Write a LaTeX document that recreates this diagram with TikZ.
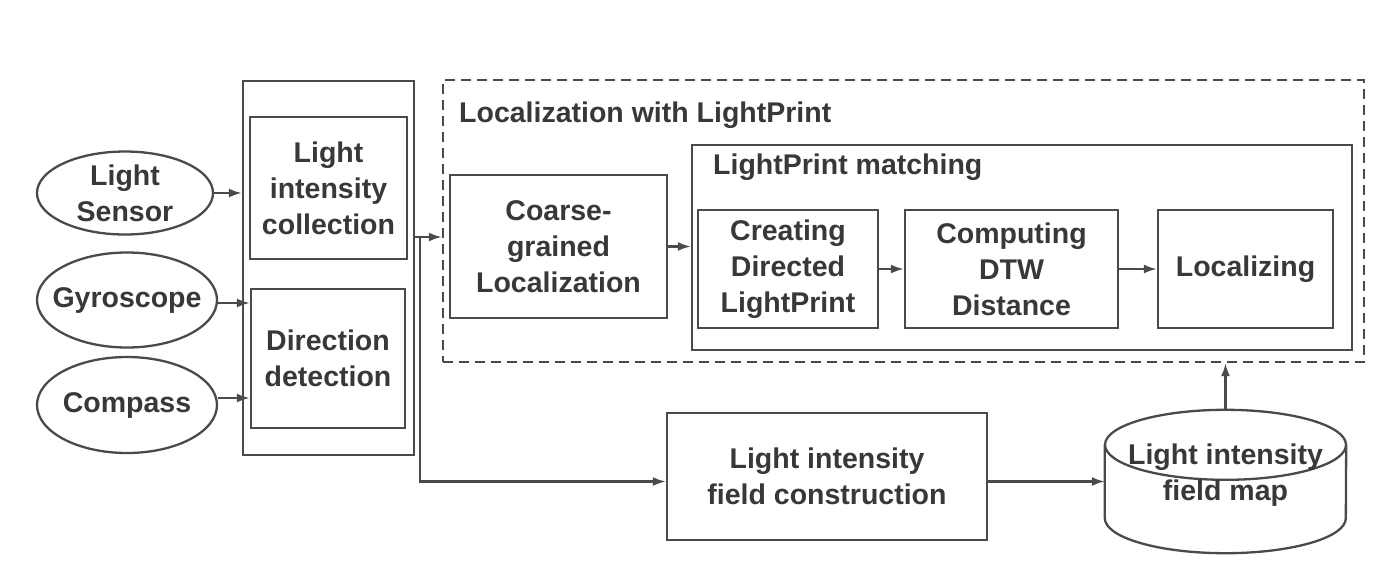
\documentclass[tikz,border=0pt]{standalone}
\usepackage{fontspec}
\setmainfont{Liberation Sans}
\usetikzlibrary{arrows.meta,shapes.geometric}
\definecolor{ln}{HTML}{4A4A4A}
\definecolor{tx}{HTML}{383838}
\begin{document}
\begin{tikzpicture}[x=1pt,y=-1pt,
 every node/.style={text=tx, font=\fontsize{28.5}{36}\selectfont\bfseries},
 box/.style={draw=ln, line width=2.3pt, rectangle, align=center, inner sep=0pt},
 oval/.style={draw=ln, line width=2.3pt, ellipse, align=center, inner xsep=-16pt, inner ysep=-10pt},
 arr/.style={draw=ln, line width=2.3pt, -{Latex[length=13pt,width=9pt]}},
 ln2/.style={draw=ln, line width=2.3pt}
 ]
\useasboundingbox (0,0) rectangle (1388,582);
% sensors
\node[oval, minimum width=176pt, minimum height=83pt] (ls) at (125,193) {Light\\Sensor};
\node[oval, minimum width=180pt, minimum height=95pt] (gy) at (127,300) {Gyroscope};
\node[oval, minimum width=180pt, minimum height=96pt] (co) at (127,405) {Compass};
% preprocessing container
\node[box, minimum width=171pt, minimum height=374pt] (outer) at (328.5,268) {};
\node[box, minimum width=157pt, minimum height=142pt] (lic) at (328.5,188) {Light\\intensity\\collection};
\node[box, minimum width=154pt, minimum height=139pt] (dd) at (328,358.5) {Direction\\detection};
% localization
\node[box, dash pattern=on 10pt off 6pt, minimum width=921pt, minimum height=282pt] (dash) at (903.5,221) {};
\node[anchor=west, inner sep=0pt] (t1) at (459,115) {Localization with LightPrint};
\node[box, minimum width=217pt, minimum height=143pt] (cg) at (558.5,246.5) {Coarse-\\grained\\Localization};
\node[box, minimum width=660pt, minimum height=205pt] (lpm) at (1022,247.5) {};
\node[anchor=west, inner sep=0pt] (t2) at (713,167) {LightPrint matching};
\node[box, minimum width=180pt, minimum height=118pt] (cr) at (788,269) {Creating\\Directed\\LightPrint};
\node[box, minimum width=213pt, minimum height=118pt] (cd) at (1011.5,269) {Computing\\DTW\\Distance};
\node[box, minimum width=175pt, minimum height=118pt] (lo) at (1245.5,269) {Localizing};
% field construction
\node[box, minimum width=320pt, minimum height=127pt] (lifc) at (827,476.5) {Light intensity\\field construction};
% cylinder
\node[minimum width=241pt, minimum height=143pt, inner sep=0pt] (cyl) at (1225.5,481.5) {};
\draw[ln2] ([yshift=-35pt]cyl.north) ellipse [x radius=120.5pt, y radius=35pt];
\draw[ln2] ([yshift=-35pt]cyl.north west) -- ([yshift=35pt]cyl.south west)
  arc[start angle=180, end angle=360, x radius=120.5pt, y radius=35pt]
  -- ([yshift=-35pt]cyl.north east);
\node[align=center, inner sep=0pt] (cyltxt) at (1225.5,475) {Light intensity\\field map};
% connectors
\draw[arr] (ls.east) -- (ls.east -| outer.west);
\draw[arr] ([yshift=-3pt]gy.east) -- ([yshift=-3pt]gy.east -| dd.west);
\draw[arr] ([yshift=7pt]co.east) -- ([yshift=7pt]co.east -| dd.west);
\coordinate (split) at (420,237);
\draw[arr] (outer.east |- split) -- (split -| dash.west);
\draw[arr] (split) |- (lifc.west |- cyl.west);
\draw[arr] (cg.east) -- (cg.east -| lpm.west);
\draw[arr] (cr) -- (cd);
\draw[arr] (cd) -- (lo);
\draw[arr] (lifc.east |- cyl.west) -- (cyl.west);
\draw[arr] (cyl.north) -- (cyl.north |- dash.south);
\end{tikzpicture}
\end{document}
